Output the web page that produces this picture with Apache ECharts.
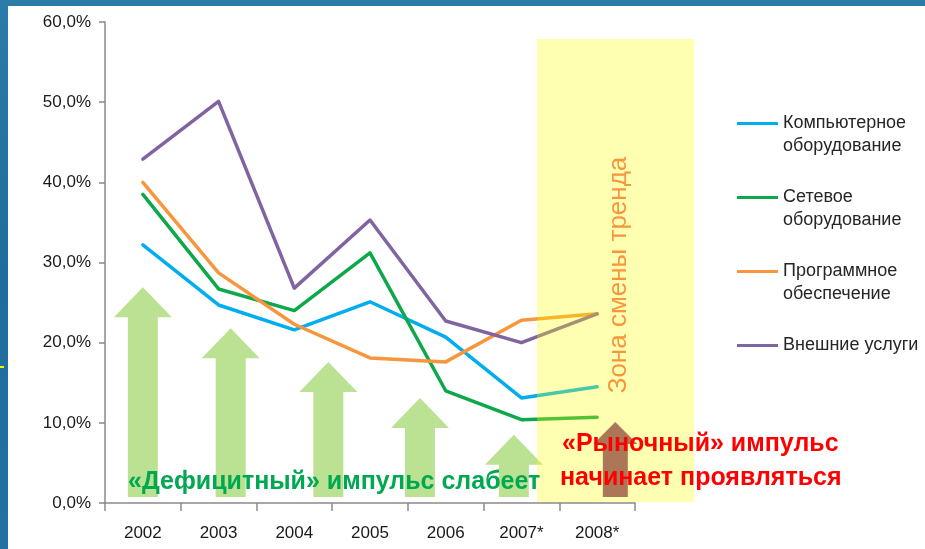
<!DOCTYPE html>
<html><head><meta charset="utf-8">
<script src="https://cdn.jsdelivr.net/npm/echarts@6/dist/echarts.min.js"></script>
<style>
html,body{margin:0;padding:0;}
#wrap{position:relative;width:925px;height:549px;background:linear-gradient(180deg,#2b7ca8 0%,#1e6d9a 50%,#22729f 100%);overflow:hidden;}
#panel{position:absolute;left:8px;top:6px;right:0;bottom:0;background:#fff;}
#mark{position:absolute;left:0;top:366px;width:4px;height:2px;background:#f5f500;}
#chart{position:absolute;left:0;top:0;width:925px;height:549px;}
</style></head><body>
<div id="wrap"><div id="panel"></div><div id="mark"></div><div id="chart"></div></div>
<script>
const categories = ['2002','2003','2004','2005','2006','2007*','2008*'];
const seriesNames = ['Компьютерное оборудование','Сетевое оборудование','Программное обеспечение','Внешние услуги'];
const legendLines = [['Компьютерное','оборудование'],['Сетевое','оборудование'],['Программное','обеспечение'],['Внешние услуги']];
const computerHw = [32.2,24.7,21.6,25.1,20.7,13.1,14.5];
const networkHw  = [38.5,26.7,24.0,31.2,14.0,10.4,10.7];
const software   = [40.0,28.7,22.3,18.1,17.6,22.8,23.6];
const services   = [42.9,50.1,26.8,35.3,22.7,20.0,23.6];
const yTicks = [0,10,20,30,40,50,60];
const deficitArrowX = [0.5,1.66,2.95,4.16,5.40];
const deficitArrowTop = [26.9,21.8,17.6,13.1,8.5];
const marketArrowX = [6.74];
const marketArrowTop = [10.1];
const arrowBottom = 0.75;
const deficitText = '«Дефицитный» импульс слабеет';
const marketText = ['«Рыночный» импульс','начинает проявляться'];
const zoneText = 'Зона смены тренда';

const colors = ['#00AEEF','#0DA84A','#F7963C','#8064A2'];
const seriesData = [computerHw, networkHw, software, services];
const FONT = '"Liberation Sans", Arial, sans-serif';

function arrowItem(headW, headH, shaftW) {
  return function (params, api) {
    const tip = api.coord([api.value(0), api.value(1)]);
    const base = api.coord([api.value(0), api.value(2)]);
    const x = tip[0], y = tip[1], hw = headW / 2, sw = shaftW / 2;
    return {
      type: 'polygon',
      shape: { points: [[x, y], [x + hw, y + headH], [x + sw, y + headH], [x + sw, base[1]], [x - sw, base[1]], [x - sw, y + headH], [x - hw, y + headH]] },
      style: { fill: api.visual('color') }
    };
  };
}

const chart = echarts.init(document.getElementById('chart'), null, { renderer: 'canvas' });
const lineSeries = seriesNames.map((n, i) => ({
  name: n, type: 'line', data: seriesData[i], showSymbol: false, symbol: 'none',
  lineStyle: { width: 3.5, color: colors[i], cap: 'round', join: 'round' },
  itemStyle: { color: colors[i] }, z: 3, animation: false
}));

chart.setOption({
  animation: false,
  backgroundColor: 'transparent',
  grid: { left: 105, right: 290, top: 22, bottom: 46, containLabel: false },
  xAxis: [{
    type: 'category', data: categories, boundaryGap: true,
    axisLine: { lineStyle: { color: '#8a8a8a', width: 1.5 } },
    axisTick: { show: true, length: 8, lineStyle: { color: '#8a8a8a', width: 1.5 } },
    axisLabel: { margin: 22, color: '#1a1a1a', fontSize: 17, fontFamily: FONT },
    splitLine: { show: false }
  }, {
    type: 'value', min: 0, max: 7, show: false
  }],
  yAxis: {
    type: 'value', min: yTicks[0], max: yTicks[yTicks.length - 1], interval: 10,
    axisLine: { show: true, lineStyle: { color: '#8a8a8a', width: 1.5 } },
    axisTick: { show: true, length: 6, lineStyle: { color: '#8a8a8a', width: 1.5 } },
    axisLabel: { margin: 14, color: '#1a1a1a', fontSize: 17, fontFamily: FONT,
      formatter: v => v.toFixed(1).replace('.', ',') + '%' },
    splitLine: { show: false }
  },
  legend: {
    orient: 'vertical', left: 732, top: 84, itemWidth: 41, itemHeight: 3, itemGap: 5,
    icon: 'rect',
    data: seriesNames,
    formatter: name => {
      const l = legendLines[seriesNames.indexOf(name)];
      return l.length === 1 ? '\n' + l[0] + '\n' : '\n' + l.join('\n');
    },
    textStyle: { color: '#262626', fontSize: 18, fontFamily: FONT, lineHeight: 23 }
  },
  series: [
    {
      type: 'custom', xAxisIndex: 1, z: 1, silent: true,
      renderItem: arrowItem(58, 30, 30),
      itemStyle: { color: 'rgba(146,208,80,0.62)' },
      data: deficitArrowX.map((x, i) => [x, deficitArrowTop[i], arrowBottom])
    },
    {
      type: 'custom', xAxisIndex: 1, z: 105, silent: true,
      renderItem: arrowItem(44, 22, 25),
      itemStyle: { color: 'rgba(150,85,65,0.8)' },
      data: marketArrowX.map((x, i) => [x, marketArrowTop[i], arrowBottom])
    }
  ].concat(lineSeries),
  graphic: [
    { type: 'rect', z: 100, shape: { x: 537, y: 39, width: 157, height: 463 }, style: { fill: 'rgba(255,255,0,0.3)' }, silent: true },
    { type: 'text', z: 110, x: 128, y: 482, style: { text: deficitText, fill: '#00A84F', font: 'bold 25px ' + FONT, align: 'left', verticalAlign: 'middle' } },
    { type: 'text', z: 110, x: 562, y: 444, style: { text: marketText[0], fill: '#FF0000', font: 'bold 25px ' + FONT, align: 'left', verticalAlign: 'middle' } },
    { type: 'text', z: 110, x: 560, y: 478, style: { text: marketText[1], fill: '#FF0000', font: 'bold 25px ' + FONT, align: 'left', verticalAlign: 'middle' } },
    { type: 'text', z: 110, x: 619, y: 275, rotation: Math.PI / 2, style: { text: zoneText, fill: '#F7963C', font: '26px ' + FONT, align: 'center', verticalAlign: 'middle' } }
  ]
});
</script>
</body></html>
